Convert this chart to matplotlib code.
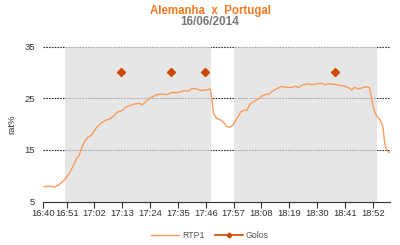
import numpy as np
import matplotlib
matplotlib.use("Agg")
from matplotlib import pyplot as plt

plt.rcParams['font.family'] = ['Liberation Sans', 'DejaVu Sans']

# minutes after 16:40 and audience share (rat%)
rtp1_min = [2.1, 4.4, 6.0, 7.7, 9.0, 10.3, 12.0, 13.6, 15.0, 16.0, 16.9, 18.2, 19.5, 20.9,
            22.6, 24.2, 26.1, 28.1, 29.7, 31.0, 32.8, 34.5, 36.0, 38.0, 40.0, 40.9, 42.6,
            44.6, 46.6, 48.6, 50.5, 52.5, 54.5, 55.8, 57.8, 59.1, 60.4, 62.4, 64.1, 66.4,
            67.7, 68.3, 69.0, 70.3, 72.3, 73.3, 74.3, 75.6, 76.9, 78.2, 79.9, 81.2, 82.2,
            83.5, 85.5, 86.8, 87.8, 89.4, 91.0, 92.7, 94.4, 96.0, 98.0, 100.0, 101.3, 102.6,
            104.6, 106.5, 107.9, 109.9, 111.8, 113.1, 114.4, 116.4, 119.1, 121.0, 123.0,
            123.7, 124.7, 126.3, 128.3, 129.9, 130.7, 131.6, 132.5, 133.6, 134.9, 136.0,
            136.5, 137.0, 137.8, 138.6]
rtp1_val = [7.9, 8.0, 7.8, 8.2, 8.7, 9.3, 10.4, 11.9, 13.4, 14.0, 15.3, 16.7, 17.5, 17.9,
            19.2, 20.0, 20.7, 21.0, 21.6, 22.3, 22.6, 23.3, 23.6, 23.9, 24.0, 23.7, 24.5,
            25.2, 25.7, 25.8, 25.7, 26.1, 26.1, 26.2, 26.5, 26.3, 26.9, 26.8, 26.5, 26.6,
            26.8, 25.3, 22.1, 21.1, 20.7, 20.2, 19.5, 19.4, 19.9, 21.0, 22.4, 22.7, 22.6,
            23.9, 24.5, 24.9, 25.3, 25.7, 25.8, 26.5, 26.9, 27.3, 27.1, 27.1, 27.3, 27.1,
            27.6, 27.8, 27.6, 27.8, 27.9, 27.6, 27.8, 27.7, 27.5, 27.3, 26.9,
            26.6, 27.1, 26.8, 27.1, 27.2, 27.0, 24.7, 22.7, 21.5, 20.8, 19.5,
            17.3, 15.6, 14.8, 14.5]

goal_min = [32.5, 52.1, 65.7, 117.1]
goal_val = [30, 30, 30, 30]

halves = [(10.3, 68.1), (77.3, 133.5)]

x_start, x_end = 1.75, 138.8
tick_pos = [x_start] + [11 * k for k in range(1, 13)]
tick_lab = ['16:40', '16:51', '17:02', '17:13', '17:24', '17:35', '17:46',
            '17:57', '18:08', '18:19', '18:30', '18:41', '18:52']

fig = plt.figure(figsize=(4, 2.45), dpi=100)
ax = fig.add_axes([0.108, 0.177, 0.867, 0.633])

for y in [15, 25, 35]:
    ax.axhline(y, color='#333333', lw=0.8, ls=(0, (1.5, 1)), zorder=1, clip_on=False)
for a, b in halves:
    ax.axvspan(a, b, ymin=0, ymax=1, color='#dcdcdc', alpha=0.7, lw=0, zorder=1.5)

ax.plot(rtp1_min, rtp1_val, color='#f99b5b', lw=1.0, zorder=3, label='RTP1')
ax.plot(goal_min, goal_val, ls='none', marker='D', ms=4, color='#cc4a00', zorder=4)
ax.plot([], [], color='#cc4a00', lw=1.2, marker='D', ms=2.5, label='Golos')

ax.set_xlim(x_start, x_end)
ax.set_ylim(5, 35)
ax.set_yticks([5, 15, 25, 35])
ax.set_xticks(tick_pos)
ax.set_xticklabels(tick_lab)
ax.tick_params(axis='x', labelsize=6.8, colors='#333333', length=4, width=0.8, pad=1.5)
ax.tick_params(axis='y', labelsize=6.8, colors='#333333', length=0, pad=6)
for s in ['top', 'right', 'left']:
    ax.spines[s].set_visible(False)
ax.spines['bottom'].set_color('#333333')
ax.spines['bottom'].set_linewidth(0.8)
ax.set_ylabel('rat%', fontsize=6.8, color='#333333', labelpad=6)

fig.text(0.525, 0.955, 'Alemanha  x  Portugal', ha='center', va='center',
         fontsize=8.3, fontweight='bold', color='#f47920')
fig.text(0.525, 0.912, '16/06/2014', ha='center', va='center',
         fontsize=8.5, fontweight='bold', color='#777777')

fig.legend(loc='center', bbox_to_anchor=(0.525, 0.04), ncol=2, frameon=False,
           fontsize=6.3, handlelength=3.2, columnspacing=1.2, handletextpad=0.3,
           labelcolor='#555555')

fig.savefig('out.png', dpi=100)
